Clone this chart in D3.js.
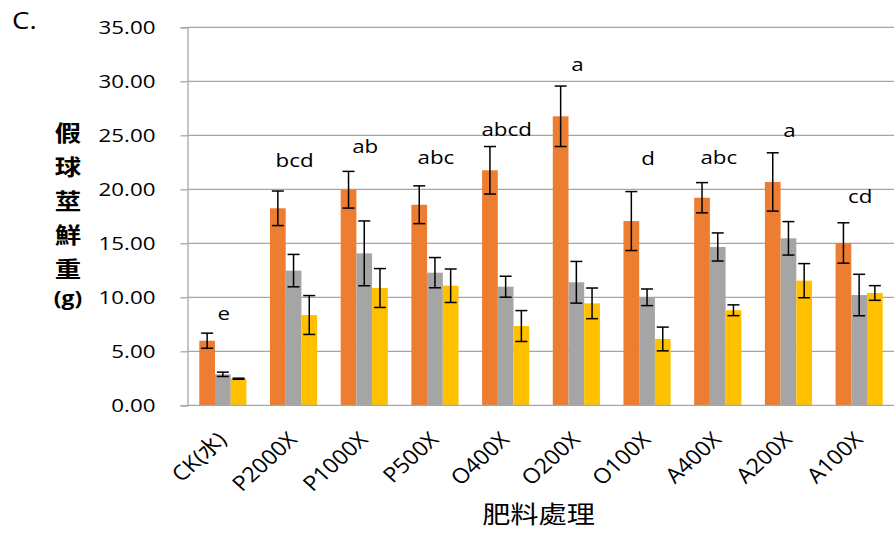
<!DOCTYPE html>
<html>
<head>
<meta charset="utf-8">
<script src="https://cdn.jsdelivr.net/npm/d3@7"></script>
<style>
  html, body { margin: 0; padding: 0; background: #fff; }
  svg { display: block; }
  text { font-family: "Open Sans", "Noto Sans CJK TC", sans-serif; fill: #000; }
</style>
</head>
<body>
<svg id="chart" width="894" height="535"></svg>
<script>
// ---- data ----
const categories = ['CK(水)','P2000X','P1000X','P500X','O400X','O200X','O100X','A400X','A200X','A100X'];
const seriesNames = ['s1','s2','s3'];
const orangeValues = [5.98, 18.24, 19.96, 18.57, 21.76, 26.76, 17.06, 19.22, 20.68, 15.03];
const orangeErrors = [0.70, 1.60, 1.70, 1.75, 2.20, 2.80, 2.73, 1.40, 2.70, 1.87];
const grayValues   = [2.87, 12.47, 14.07, 12.28, 10.98, 11.39, 10.00, 14.66, 15.46, 10.21];
const grayErrors   = [0.20, 1.50, 3.00, 1.40, 0.97, 1.93, 0.77, 1.30, 1.55, 1.92];
const yellowValues = [2.46, 8.36, 10.86, 11.07, 7.34, 9.44, 6.14, 8.80, 11.54, 10.40];
const yellowErrors = [0.05, 1.80, 1.80, 1.55, 1.43, 1.42, 1.10, 0.50, 1.58, 0.68];
const letters      = ['e','bcd','ab','abc','abcd','a','d','abc','a','cd'];
const letterLevels = [8.55, 22.65, 23.94, 22.96, 25.55, 31.6, 22.87, 23.0, 25.5, 19.38];
const yTicks = [0, 5, 10, 15, 20, 25, 30, 35];
const yTitleChars = ['假','球','莖','鮮','重','(g)'];
const xTitle = '肥料處理';
const panelLabel = 'C.';

(function () {
const colors = {s1: '#ED7D31', s2: '#A5A5A5', s3: '#FFC000'};
const valuesBySeries = {s1: orangeValues, s2: grayValues, s3: yellowValues};
const errorsBySeries = {s1: orangeErrors, s2: grayErrors, s3: yellowErrors};

// ---- layout ----
const SX = 1.2; // horizontal text stretch
const mLeft = 187.5, mRight = 894.5, mTop = 27.3, mBottom = 405.3;
const svg = d3.select('#chart');

const y = d3.scaleLinear().domain([0, 35]).range([mBottom, mTop]);
const x0 = d3.scaleBand().domain(categories).range([mLeft, mRight]).paddingInner(0).paddingOuter(0);
const x1 = d3.scaleBand().domain(seriesNames).range([0, x0.bandwidth()]).paddingInner(0).paddingOuter(0.75);

// gridlines
svg.append('g').selectAll('line').data(yTicks.filter(t => t > 0)).join('line')
  .attr('x1', mLeft).attr('x2', mRight)
  .attr('y1', d => y(d)).attr('y2', d => y(d))
  .attr('stroke', '#a6a6a6').attr('stroke-width', 1.3);

// y axis
const yAxis = svg.append('g').attr('transform', `translate(${mLeft},0)`)
  .call(d3.axisLeft(y).tickValues(yTicks).tickSize(7).tickFormat(''));
yAxis.select('.domain').attr('stroke', '#a6a6a6').attr('stroke-width', 1.3);
yAxis.selectAll('.tick line').attr('stroke', '#a6a6a6').attr('stroke-width', 1.3);

// y tick labels
svg.append('g').selectAll('text').data(yTicks).join('text')
  .attr('transform', d => `translate(155.5,${y(d)}) scale(${SX},1)`)
  .attr('text-anchor', 'end').attr('dy', '0.36em')
  .style('font-size', '18.6px')
  .text(d => d3.format('.2f')(d));

// bars
const rows = categories.map((c, i) => ({c, i}));
const groups = svg.append('g').selectAll('g').data(rows).join('g')
  .attr('transform', d => `translate(${x0(d.c)},0)`);

groups.selectAll('rect').data(d => seriesNames.map(s => ({s, v: valuesBySeries[s][d.i]}))).join('rect')
  .attr('x', d => x1(d.s)).attr('width', x1.bandwidth())
  .attr('y', d => y(d.v)).attr('height', d => y(0) - y(d.v))
  .attr('fill', d => colors[d.s]);

// error bars
const eb = groups.selectAll('g.err').data(d => seriesNames.map(s => ({s, v: valuesBySeries[s][d.i], e: errorsBySeries[s][d.i]}))).join('g')
  .attr('class', 'err')
  .attr('transform', d => `translate(${x1(d.s) + x1.bandwidth()/2},0)`)
  .attr('stroke', '#000').attr('stroke-width', 1.5);
eb.append('line').attr('x1', 0).attr('x2', 0).attr('y1', d => y(d.v + d.e)).attr('y2', d => y(d.v - d.e));
eb.append('line').attr('x1', -6).attr('x2', 6).attr('y1', d => y(d.v + d.e)).attr('y2', d => y(d.v + d.e));
eb.append('line').attr('x1', -6).attr('x2', 6).attr('y1', d => y(d.v - d.e)).attr('y2', d => y(d.v - d.e));

// x axis line
svg.append('line').attr('x1', mLeft).attr('x2', mRight).attr('y1', mBottom).attr('y2', mBottom)
  .attr('stroke', '#a6a6a6').attr('stroke-width', 1.3);

// significance letters
svg.append('g').selectAll('text').data(rows).join('text')
  .attr('transform', d => `translate(${x0(d.c) + x0.bandwidth()/2 + 1},${y(letterLevels[d.i])}) scale(${SX},1)`)
  .attr('text-anchor', 'middle').attr('dy', '0.36em')
  .style('font-size', '18.6px')
  .text(d => letters[d.i]);

// x tick labels (rotated)
svg.append('g').selectAll('text').data(rows).join('text')
  .attr('transform', d => `translate(${x0(d.c) + x0.bandwidth()/2 + 5},441) scale(1.1,1) rotate(-45)`)
  .attr('text-anchor', 'end')
  .style('font-size', '21px')
  .text(d => d.c);

// x title
svg.append('text')
  .attr('transform', `translate(538.5,512.5) scale(${SX},1)`)
  .attr('text-anchor', 'middle').attr('dominant-baseline', 'central')
  .style('font-family', '"Noto Sans CJK TC", sans-serif')
  .style('font-size', '23.5px')
  .text(xTitle);

// y title (stacked)
const yTitlePos = [131, 165, 199, 233, 267, 298];
svg.append('g').selectAll('text').data(yTitleChars).join('text')
  .attr('transform', (d, i) => `translate(68,${yTitlePos[i]}) scale(${SX},1)`)
  .attr('text-anchor', 'middle').attr('dominant-baseline', 'central')
  .style('font-family', d => d === '(g)' ? '"Open Sans", sans-serif' : '"Noto Sans CJK TC", sans-serif')
  .style('font-weight', 'bold')
  .style('font-size', d => d === '(g)' ? '19px' : '22px')
  .text(d => d);

// panel label
svg.append('text')
  .attr('transform', `translate(12,29) scale(${SX},1)`)
  .style('font-size', '23px')
  .text(panelLabel);
})();
</script>
</body>
</html>
